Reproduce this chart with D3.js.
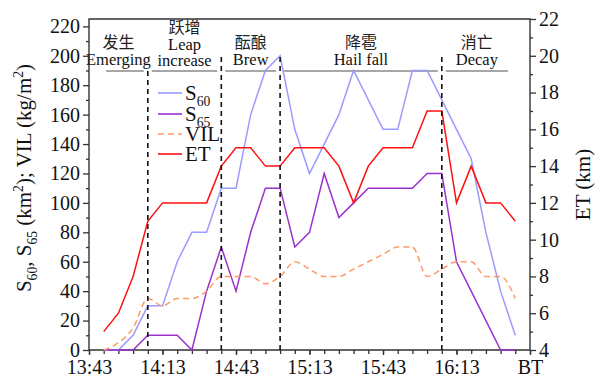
<!DOCTYPE html>
<html>
<head>
<meta charset="utf-8">
<script src="https://cdn.jsdelivr.net/npm/d3@7"></script>
<style>
  html, body { margin: 0; padding: 0; background: #fff; }
  svg { display: block; font-family: "Liberation Serif", "Times New Roman", serif; }
</style>
</head>
<body>
<svg id="chart" width="601" height="380"></svg>
<script>
// Observation times (BT), one radar volume every 6 minutes
const times = ["13:49","13:55","14:01","14:07","14:13","14:19","14:25","14:31","14:37","14:43",
               "14:49","14:55","15:01","15:07","15:13","15:19","15:25","15:31","15:37","15:43",
               "15:49","15:55","16:01","16:07","16:13","16:19","16:25","16:31","16:37"];
// Area of echo >= 60 dBZ (km^2)
const s60 = [0,0,10,30,30,60,80,80,110,110,160,190,200,150,120,140,160,190,170,150,150,190,190,170,150,130,80,40,10];
// Area of echo >= 65 dBZ (km^2)
const s65 = [0,0,0,10,10,10,0,40,70,40,80,110,110,70,80,120,90,100,110,110,110,110,120,120,60,40,20,0,0];
// Vertically integrated liquid (kg/m^2)
const vil = [0,5,15,35,30,35,35,40,50,50,50,45,50,60,55,50,50,55,60,65,70,70,50,55,60,60,50,50,35];
// Echo top (km)
const et = [5,6,8,11,12,12,12,12,14,15,15,14,14,15,15,15,14,12,14,15,15,15,17,17,12,14,12,12,11];

const timeTicks = ["13:43","14:13","14:43","15:13","15:43","16:13","16:43"];
const timeTickLabels = ["13:43","14:13","14:43","15:13","15:43","16:13","BT"];
const leftTicks = [0,20,40,60,80,100,120,140,160,180,200,220];
const rightTicks = [4,6,8,10,12,14,16,18,20,22];

// Storm life-cycle stages
const stageEdges = ["13:43","14:07","14:37","15:01","16:07","16:37"];
const stageZh = ["发生","跃增","酝酿","降雹","消亡"];
const stageEn = [["Emerging"],["Leap","increase"],["Brew"],["Hail fall"],["Decay"]];

const parse = d3.timeParse("%H:%M");
const L = 89, R = 530, T = 19, B = 350;
const svg = d3.select("#chart");

const x = d3.scaleTime().domain([parse("13:43"), parse("16:43")]).range([L, R]);
const yL = d3.scaleLinear().domain([0, 225]).range([B, T]);
const yR = d3.scaleLinear().domain([4, 22]).range([B, T]);
const tt = times.map(parse);

const axisColor = "#333";
const ink = "#111";

function richText(sel, parts, size) {
  let cur = 0;
  parts.forEach(p => {
    const target = p.sub ? size * 0.3 : p.sup ? -size * 0.38 : 0;
    const ts = sel.append("tspan").text(p.t);
    if (target !== cur) { ts.attr("dy", target - cur); cur = target; }
    if (p.sub || p.sup) ts.attr("font-size", size * 0.65);
  });
}

function styleAxis(g, fontSize) {
  g.attr("font-family", null).attr("font-size", null);
  g.select(".domain").remove();
  g.selectAll(".tick line").attr("stroke", axisColor).attr("stroke-width", 1.3);
  g.selectAll(".tick text").attr("font-size", fontSize).attr("fill", ink);
}

// ---- stage annotations ----
const stageG = svg.append("g");
const pad = 4;
for (let i = 0; i < stageZh.length; i++) {
  const x0 = x(parse(stageEdges[i])), x1 = x(parse(stageEdges[i + 1]));
  const lx0 = i === 0 ? x(parse("13:50")) : x0 + pad;
  const lx1 = i === stageZh.length - 1 ? x(parse("16:34")) : x1 - pad;
  stageG.append("line")
    .attr("x1", lx0).attr("x2", lx1).attr("y1", 71).attr("y2", 71)
    .attr("stroke", "#8a8a8a").attr("stroke-width", 1.6);
  const cx = i === 0 ? (x0 + x1) / 2 : (lx0 + lx1) / 2;
  const en = stageEn[i];
  const zhY = en.length === 2 ? 33 : 48;
  stageG.append("text")
    .attr("x", cx).attr("y", zhY).attr("text-anchor", "middle")
    .attr("font-family", "'Noto Sans CJK SC', sans-serif")
    .attr("font-size", 16).attr("fill", "#222")
    .text(stageZh[i]);
  en.forEach((s, j) => {
    stageG.append("text")
      .attr("x", cx).attr("y", en.length === 2 ? 50 + j * 16 : 65)
      .attr("text-anchor", "middle").attr("font-size", 16.5).attr("fill", ink)
      .text(s);
  });
}

// ---- axes ----
const minorTimes = d3.range(0, 181, 6).map(m => new Date(parse("13:43").getTime() + m * 60000));
svg.append("g").attr("transform", `translate(0,${B})`)
  .call(d3.axisBottom(x).tickValues(minorTimes).tickSize(4).tickFormat(""))
  .call(g => styleAxis(g, 20));
svg.append("g").attr("transform", `translate(0,${B})`)
  .call(d3.axisBottom(x).tickValues(timeTicks.map(parse)).tickSize(5).tickPadding(5)
    .tickFormat((d, i) => timeTickLabels[i]))
  .call(g => styleAxis(g, 20));

svg.append("g").attr("transform", `translate(${L},0)`)
  .call(d3.axisLeft(yL).tickValues(d3.range(10, 221, 20)).tickSize(3).tickFormat(""))
  .call(g => styleAxis(g, 20));
svg.append("g").attr("transform", `translate(${L},0)`)
  .call(d3.axisLeft(yL).tickValues(leftTicks).tickSize(6).tickPadding(3))
  .call(g => styleAxis(g, 20));

svg.append("g").attr("transform", `translate(${R},0)`)
  .call(d3.axisRight(yR).tickValues(d3.range(5, 22, 2)).tickSize(3).tickFormat(""))
  .call(g => styleAxis(g, 20));
svg.append("g").attr("transform", `translate(${R},0)`)
  .call(d3.axisRight(yR).tickValues(rightTicks).tickSize(6).tickPadding(3))
  .call(g => styleAxis(g, 20));

// frame
svg.append("path")
  .attr("d", `M${L},${T}V${B}H${R}V${T}Z`)
  .attr("fill", "none").attr("stroke", axisColor).attr("stroke-width", 1.4);

// ---- series ----
const series = [
  { name: [{t:"S"},{t:"60",sub:1}], vals: s60, y: yL, color: "#9a9aff", dash: null, curve: d3.curveLinear },
  { name: [{t:"S"},{t:"65",sub:1}], vals: s65, y: yL, color: "#9933cc", dash: null, curve: d3.curveLinear },
  { name: [{t:"VIL"}], vals: vil, y: yL, color: "#ff9966", dash: "6,4", curve: d3.curveMonotoneX },
  { name: [{t:"ET"}], vals: et, y: yR, color: "#ff1010", dash: null, curve: d3.curveLinear }
];

series.forEach(s => {
  svg.append("path")
    .attr("d", d3.line().x((d, i) => x(tt[i])).y(d => s.y(d)).curve(s.curve)(s.vals))
    .attr("fill", "none").attr("stroke", s.color).attr("stroke-width", 1.5)
    .attr("stroke-dasharray", s.dash);
});

// stage boundaries
stageEdges.slice(1, -1).forEach((t, i) => {
  svg.append("line")
    .attr("x1", x(parse(t))).attr("x2", x(parse(t)))
    .attr("y1", i === 0 ? 71 : 57).attr("y2", B)
    .attr("stroke", "#111").attr("stroke-width", 1.6).attr("stroke-dasharray", "5,4");
});

// ---- legend ----
const legY = [93, 114, 134, 154];
series.forEach((s, i) => {
  svg.append("line")
    .attr("x1", 158).attr("x2", 182).attr("y1", legY[i]).attr("y2", legY[i])
    .attr("stroke", s.color).attr("stroke-width", 1.6).attr("stroke-dasharray", s.dash);
  const t = svg.append("text").attr("x", 185).attr("y", legY[i] + 7)
    .attr("font-size", 21).attr("fill", ink);
  richText(t, s.name, 21);
});

// ---- axis titles ----
const lt = svg.append("text")
  .attr("transform", `translate(31,178) rotate(-90)`)
  .attr("text-anchor", "middle").attr("font-size", 21).attr("fill", ink);
richText(lt, [{t:"S"},{t:"60",sub:1},{t:", S"},{t:"65",sub:1},{t:" (km"},{t:"2",sup:1},
              {t:"); VIL (kg/m"},{t:"2",sup:1},{t:")"}], 21);

svg.append("text")
  .attr("transform", `translate(590,${(T + B) / 2}) rotate(-90)`)
  .attr("text-anchor", "middle").attr("font-size", 21).attr("fill", ink)
  .text("ET (km)");
</script>
</body>
</html>
